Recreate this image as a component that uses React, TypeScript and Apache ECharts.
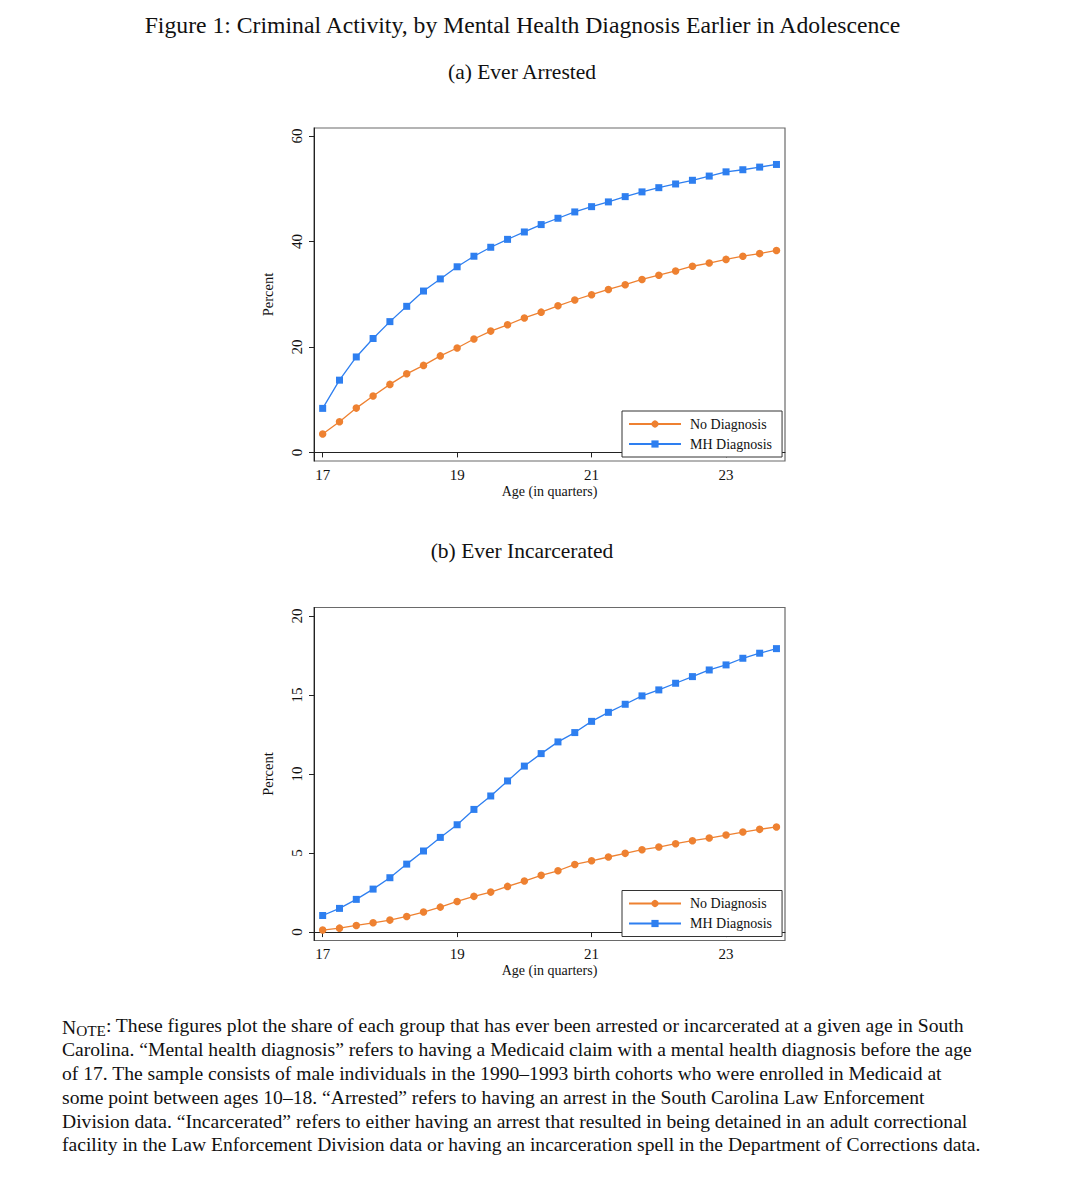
import React, { useEffect, useRef } from "react";
import * as echarts from "echarts";

// ---- data ----
const quarters = [
  17, 17.25, 17.5, 17.75, 18, 18.25, 18.5, 18.75, 19, 19.25, 19.5, 19.75, 20, 20.25,
  20.5, 20.75, 21, 21.25, 21.5, 21.75, 22, 22.25, 22.5, 22.75, 23, 23.25, 23.5, 23.75,
];
const xTicks = [17, 19, 21, 23];

const arrestedNoDx = [
  3.5, 5.8, 8.4, 10.7, 12.9, 14.9, 16.5, 18.3, 19.8, 21.5, 23.0, 24.2, 25.5, 26.6,
  27.8, 28.9, 29.9, 30.9, 31.8, 32.8, 33.6, 34.4, 35.3, 35.9, 36.6, 37.2, 37.7, 38.3,
];
const arrestedMH = [
  8.35, 13.7, 18.1, 21.6, 24.8, 27.7, 30.6, 32.9, 35.2, 37.2, 38.9, 40.4, 41.8, 43.2,
  44.4, 45.6, 46.6, 47.5, 48.5, 49.4, 50.2, 50.9, 51.6, 52.4, 53.2, 53.6, 54.1, 54.6,
];
const arrestedYTicks = [0, 20, 40, 60];

const incarNoDx = [
  0.13, 0.25, 0.42, 0.59, 0.76, 0.99, 1.27, 1.58, 1.94, 2.26, 2.53, 2.89, 3.23, 3.59,
  3.88, 4.28, 4.51, 4.75, 4.98, 5.21, 5.38, 5.59, 5.78, 5.95, 6.14, 6.33, 6.5, 6.65,
];
const incarMH = [
  1.05, 1.5, 2.07, 2.72, 3.44, 4.3, 5.13, 5.99, 6.79, 7.76, 8.61, 9.56, 10.5, 11.29,
  12.03, 12.62, 13.33, 13.9, 14.41, 14.94, 15.32, 15.74, 16.16, 16.58, 16.9, 17.32, 17.64, 17.93,
];
const incarYTicks = [0, 5, 10, 15, 20];

const seriesNames = ["No Diagnosis", "MH Diagnosis"];

const titleText = "Figure 1: Criminal Activity, by Mental Health Diagnosis Earlier in Adolescence";
const panelTitles = ["(a) Ever Arrested", "(b) Ever Incarcerated"];
const yName = "Percent";
const xName = "Age (in quarters)";
const noteLines = [
  "{n|N}{s|OTE}: These figures plot the share of each group that has ever been arrested or incarcerated at a given age in South",
  "Carolina. \u201CMental health diagnosis\u201D refers to having a Medicaid claim with a mental health diagnosis before the age",
  "of 17. The sample consists of male individuals in the 1990\u20131993 birth cohorts who were enrolled in Medicaid at",
  "some point between ages 10\u201318. \u201CArrested\u201D refers to having an arrest in the South Carolina Law Enforcement",
  "Division data. \u201CIncarcerated\u201D refers to either having an arrest that resulted in being detained in an adult correctional",
  "facility in the Law Enforcement Division data or having an incarceration spell in the Department of Corrections data.",
];

const FONT = "'Liberation Serif', 'DejaVu Serif', serif";
const ORANGE = "#EE8131";
const BLUE = "#2E7FF0";
const AXIS = "#222";

export default function App() {
  const ref = useRef<HTMLDivElement>(null);

  useEffect(() => {
    if (!ref.current) return;
    const chart = echarts.init(ref.current, undefined, { renderer: "svg" });

    const pair = (vals: number[]) => quarters.map((q, i) => [q, vals[i]]);

    const grids = [
      { left: 314, top: 128, width: 471, height: 333 },
      { left: 314, top: 607.5, width: 471, height: 333 },
    ];
    const yRanges = [
      { min: -1.628, max: 61.514, ticks: arrestedYTicks },
      { min: -0.531, max: 20.531, ticks: incarYTicks },
    ];

    const xAxes = grids.map((_, gi) => ({
      type: "value",
      gridIndex: gi,
      min: 16.871,
      max: 23.877,
      name: xName,
      nameLocation: "middle",
      nameGap: 23,
      nameTextStyle: { fontFamily: FONT, fontSize: 14, color: "#111" },
      axisLine: { show: true, lineStyle: { color: AXIS, width: 1 } },
      axisTick: { show: true, length: 5, lineStyle: { color: AXIS }, customValues: xTicks },
      axisLabel: {
        customValues: xTicks,
        margin: 6,
        fontFamily: FONT,
        fontSize: 15,
        color: "#111",
      },
      splitLine: { show: false },
    }));

    const yAxes = grids.map((_, gi) => ({
      type: "value",
      gridIndex: gi,
      min: yRanges[gi].min,
      max: yRanges[gi].max,
      name: yName,
      nameLocation: "middle",
      nameGap: 39,
      nameRotate: 90,
      nameTextStyle: { fontFamily: FONT, fontSize: 14.5, color: "#111" },
      axisLine: { show: true, lineStyle: { color: AXIS, width: 1 } },
      axisTick: { show: true, length: 5, lineStyle: { color: AXIS }, customValues: yRanges[gi].ticks },
      axisLabel: {
        customValues: yRanges[gi].ticks,
        rotate: 90,
        margin: 10,
        fontFamily: FONT,
        fontSize: 15,
        color: "#111",
      },
      splitLine: { show: false },
    }));

    const mkSeries = (name: string, vals: number[], gi: number, color: string, symbol: string, size: number) => ({
      type: "line",
      name,
      xAxisIndex: gi,
      yAxisIndex: gi,
      data: pair(vals),
      symbol,
      symbolSize: size,
      showAllSymbol: true,
      lineStyle: { color, width: 1.3 },
      itemStyle: { color },
      emphasis: { disabled: true },
    });

    const series = [
      mkSeries(seriesNames[0], arrestedNoDx, 0, ORANGE, "circle", 7.5),
      mkSeries(seriesNames[1], arrestedMH, 0, BLUE, "rect", 7),
      mkSeries(seriesNames[0], incarNoDx, 1, ORANGE, "circle", 7.5),
      mkSeries(seriesNames[1], incarMH, 1, BLUE, "rect", 7),
    ];

    const legends = [411, 890.5].map((top) => ({
      data: seriesNames,
      orient: "vertical",
      left: 622,
      top,
      padding: [6, 10, 6, 6],
      itemGap: 6,
      itemWidth: 52,
      itemHeight: 9,
      borderColor: "#333",
      borderWidth: 1,
      backgroundColor: "#fff",
      selectedMode: false,
      textStyle: { fontFamily: FONT, fontSize: 14, color: "#111", padding: [0, 0, 0, 4] },
    }));

    const option = {
      animation: false,
      backgroundColor: "#fff",
      grid: grids.map((g) => ({
        ...g,
        show: true,
        borderColor: "#6a6a6a",
        borderWidth: 1.2,
        backgroundColor: "#fff",
      })),
      xAxis: xAxes,
      yAxis: yAxes,
      legend: legends,
      series,
      graphic: [
        {
          type: "text",
          x: 522.5,
          y: 25,
          style: {
            text: titleText,
            fontFamily: FONT,
            fontSize: 23.7,
            fill: "#111",
            align: "center",
            verticalAlign: "middle",
          },
        },
        {
          type: "text",
          x: 522,
          y: 72,
          style: {
            text: panelTitles[0],
            fontFamily: FONT,
            fontSize: 21.5,
            fill: "#111",
            align: "center",
            verticalAlign: "middle",
          },
        },
        {
          type: "text",
          x: 522,
          y: 551,
          style: {
            text: panelTitles[1],
            fontFamily: FONT,
            fontSize: 21.5,
            fill: "#111",
            align: "center",
            verticalAlign: "middle",
          },
        },
        {
          type: "text",
          x: 62,
          y: 1014,
          style: {
            text: noteLines.join("\n"),
            fontFamily: FONT,
            fontSize: 19.6,
            lineHeight: 23.8,
            fill: "#111",
            align: "left",
            verticalAlign: "top",
            rich: {
              n: { fontFamily: FONT, fontSize: 19.6, lineHeight: 23.8, fill: "#111", verticalAlign: "bottom" },
              s: { fontFamily: FONT, fontSize: 15.3, lineHeight: 23.8, fill: "#111", verticalAlign: "bottom" },
            },
          },
        },
      ],
    };

    chart.setOption(option as any);
    return () => chart.dispose();
  }, []);

  return (
    <div
      ref={ref}
      style={{ position: "absolute", left: 0, top: 0, width: 1082, height: 1200, background: "#fff" }}
    />
  );
}
